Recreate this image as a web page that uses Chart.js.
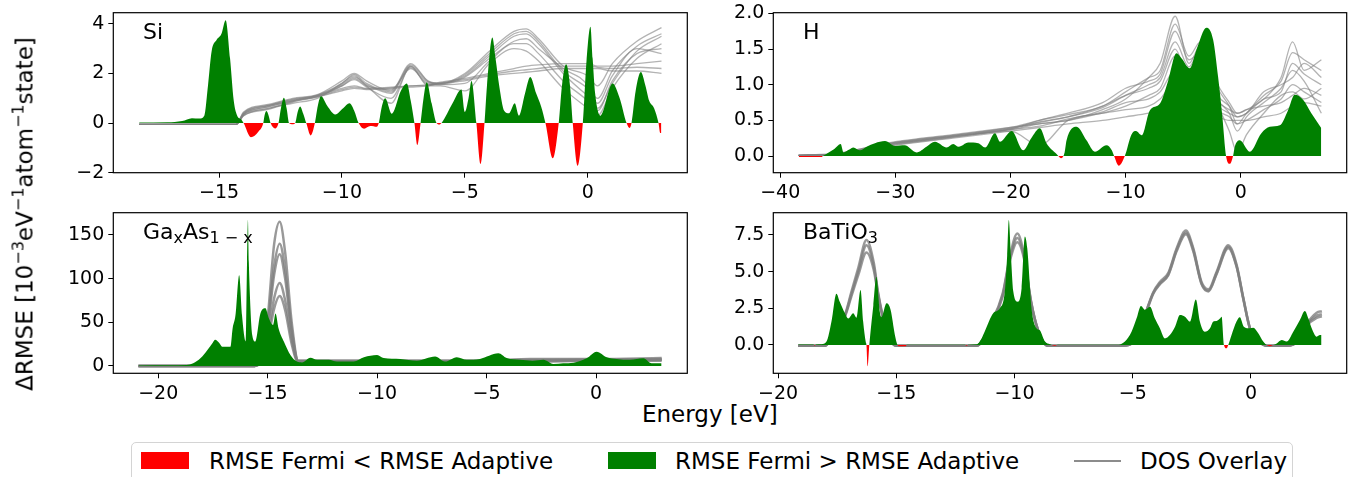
<!DOCTYPE html>
<html>
<head>
<meta charset="utf-8">
<script src="https://cdn.jsdelivr.net/npm/chart.js@4.4.1/dist/chart.umd.min.js"></script>
<style>
  body { margin: 0; width: 1354px; height: 477px; overflow: hidden; background: #fff; position: relative;
         font-family: "DejaVu Sans", sans-serif; color: #000; }
  canvas { position: absolute; }
  .txt { position: absolute; white-space: nowrap; font-size: 22px; line-height: 22px; z-index: 2; }
  .txt sub { font-size: 16px; line-height: 0; vertical-align: -4px; }
  .big { font-size: 23px; line-height: 23px; }
  .big sup { font-size: 16px; line-height: 0; vertical-align: 9px; }
  .patch { position: absolute; z-index: 2; }
</style>
</head>
<body>
<canvas id="si" width="700" height="200" style="left:0;top:0"></canvas>
<canvas id="h" width="694" height="200" style="left:660px;top:0"></canvas>
<canvas id="gaas" width="700" height="200" style="left:0;top:200px"></canvas>
<canvas id="bto" width="694" height="200" style="left:660px;top:200px"></canvas>

<div class="txt" style="left:143px;top:21px">Si</div>
<div class="txt" style="left:803px;top:21px">H</div>
<div class="txt" style="left:143px;top:221px">Ga<sub>x</sub>As<sub>1 − x</sub></div>
<div class="txt" style="left:803px;top:221px">BaTiO<sub>3</sub></div>

<div class="txt big" style="left:642px;top:403px">Energy [eV]</div>
<div class="txt big" style="left:25px;top:214px;transform:translate(-50%,-50%) rotate(-90deg)">ΔRMSE [10<sup>−3</sup>eV<sup>−1</sup>atom<sup>−1</sup>state]</div>

<div style="position:absolute;left:131px;top:442px;width:1160px;height:60px;border:1px solid #d4d4d4;border-radius:5px;"></div>
<div class="patch" style="left:141px;top:452px;width:48px;height:17px;background:#ff0000"></div>
<div class="txt big" style="left:209px;top:450px">RMSE Fermi &lt; RMSE Adaptive</div>
<div class="patch" style="left:608px;top:452px;width:48px;height:17px;background:#008000"></div>
<div class="txt big" style="left:675px;top:450px">RMSE Fermi &gt; RMSE Adaptive</div>
<div class="patch" style="left:1074px;top:460px;width:47px;height:2px;background:#8c8c8c"></div>
<div class="txt big" style="left:1140px;top:450px">DOS Overlay</div>

<script>
// ---- Si ----
const siE = [
  -18.25, -17.1, -16.5, -16.1, -15.8, -15.6, -15.45, -15.3, -15.1, -14.9,
  -14.73, -14.55, -14.4, -14.26, -14.1, -14.0, -13.7, -13.4, -13.2, -13.15,
  -13.07, -12.98, -12.9, -12.72, -12.58, -12.48, -12.36, -12.25, -12.15, -12.0,
  -11.9, -11.8, -11.7, -11.58, -11.45, -11.27, -11.1, -10.98, -10.85, -10.6,
  -10.27, -9.95, -9.69, -9.5, -9.32, -9.1, -8.85, -8.58, -8.5, -8.38,
  -8.24, -7.97, -7.6, -7.36, -7.2, -7.05, -6.93, -6.8, -6.68, -6.55,
  -6.35, -6.15, -6.04, -5.95, -5.5, -5.14, -5.0, -4.85, -4.73, -4.53,
  -4.36, -4.2, -4.1, -3.88, -3.75, -3.6, -3.4, -3.2, -2.97, -2.8,
  -2.55, -2.34, -2.1, -1.89, -1.72, -1.42, -1.18, -1.05, -0.88, -0.72,
  -0.61, -0.41, -0.2, -0.05, 0.11, 0.2, 0.3, 0.51, 1.01, 1.3,
  1.58, 1.7, 1.78, 1.95, 2.16, 2.35, 2.5, 2.7, 2.88, 2.95,
  3.0
];
const siDelta = [
  0.02, 0.03, 0.08, 0.2, 0.18, 0.3, 1.5, 2.9, 3.35, 3.6,
  4.15, 2.6, 0.9, 0.3, 0.15, 0.0, -0.57, -0.35, 0.0, 0.3,
  0.49, 0.3, 0.0, -0.22, 0.0, 0.6, 1.02, 0.6, 0.0, -0.05,
  0.0, 0.45, 0.67, 0.4, 0.0, -0.5, 0.0, 0.7, 1.08, 0.7,
  0.35, 0.6, 0.8, 0.5, 0.0, -0.23, -0.12, -0.15, 0.0, 0.65,
  1.0, 0.38, 1.3, 1.6, 0.9, 0.0, -0.88, 0.0, 1.0, 1.65,
  0.8, 0.0, -0.06, 0.0, 0.8, 1.35, 0.45, 1.0, 1.7, 0.0,
  -1.65, 0.0, 1.5, 3.45, 2.6, 1.5, 0.5, 0.4, 0.8, 0.3,
  1.2, 1.86, 1.2, 0.65, 0.0, -1.42, 0.0, 1.5, 2.37, 1.5,
  0.0, -1.72, 0.0, 2.5, 3.88, 2.6, 1.2, 0.3, 1.6, 1.0,
  0.0, -0.2, 0.0, 1.3, 2.06, 1.5, 0.9, 0.6, 0.0, -0.4,
  -0.4
];
const siDosE = [-18.25, -14.3, -14.0, -13, -12, -11, -10, -9.5, -9, -8, -7.2, -6.5, -6, -5, -4, -3, -2.5, -2, -1, 0, 0.4, 1, 2, 3];
const siDos1 = [-0.05, -0.05, 0.45, 0.75, 1.0, 1.15, 1.7, 2.0, 1.7, 1.3, 2.4, 1.7, 1.6, 2.0, 2.9, 3.7, 3.8, 3.4, 2.3, 1.9, 1.5, 2.4, 3.3, 3.85];
const siDos2 = [-0.05, -0.05, 0.35, 0.65, 0.9, 1.1, 1.5, 1.8, 1.5, 1.35, 2.2, 1.6, 1.55, 1.85, 2.6, 3.3, 3.4, 3.0, 2.2, 1.5, 0.6, 1.6, 2.9, 3.5];
const siDos3 = [-0.05, -0.05, 0.3, 0.55, 0.85, 1.05, 1.3, 1.4, 1.35, 1.4, 1.45, 1.5, 1.6, 1.7, 1.9, 2.0, 2.05, 2.1, 2.2, 2.2, 2.2, 2.1, 2.1, 2.0];
const siDos4 = [-0.05, -0.05, 0.4, 0.7, 0.95, 1.1, 1.4, 1.5, 1.4, 1.45, 1.5, 1.55, 1.65, 1.8, 2.0, 2.2, 2.3, 2.35, 2.4, 2.4, 2.3, 2.3, 2.4, 2.5];
const siDos5 = [-0.05, -0.05, 0.3, 0.6, 0.8, 1.0, 1.6, 1.9, 1.5, 0.8, 2.3, 1.5, 1.5, 1.3, 2.4, 3.0, 2.9, 2.5, 1.4, 0.6, 0.3, 1.4, 2.6, 3.2];
const siDos6 = [-0.05, -0.05, 0.38, 0.7, 0.92, 1.12, 1.55, 1.85, 1.55, 1.2, 2.3, 1.65, 1.6, 1.9, 2.7, 3.5, 3.6, 3.2, 2.0, 1.1, 0.8, 1.9, 3.0, 2.8];
const siDos7 = [-0.05, -0.05, 0.42, 0.72, 0.97, 1.13, 1.6, 1.95, 1.6, 1.25, 2.35, 1.68, 1.58, 1.95, 2.8, 3.6, 3.7, 3.3, 2.1, 1.4, 1.0, 2.1, 3.1, 3.6];
const siDos8 = [-0.05, -0.05, 0.33, 0.58, 0.87, 1.07, 1.35, 1.45, 1.38, 1.42, 1.5, 1.52, 1.62, 1.75, 1.95, 2.1, 2.15, 2.2, 2.3, 2.3, 2.25, 2.2, 2.25, 2.2];
const siDos9 = [-0.05, -0.05, 0.36, 0.66, 0.9, 1.08, 1.5, 1.75, 1.45, 1.0, 2.25, 1.55, 1.55, 1.6, 2.5, 3.2, 3.2, 2.8, 1.7, 0.9, 0.5, 1.7, 2.8, 3.0];

// ---- H ----
const hE = [
  -38.4, -36.4, -36.3, -36.0, -35.3, -34.75, -34.5, -34.0, -33.65, -33.07,
  -32.5, -31.77, -30.9, -30.0, -29.2, -28.15, -27.3, -26.56, -25.55, -24.97,
  -24.5, -23.67, -22.8, -22.2, -21.35, -20.9, -19.9, -18.9, -18.2, -17.45,
  -16.87, -16.0, -15.6, -15.3, -15.13, -14.26, -13.4, -12.67, -11.66, -11.2,
  -11.0, -10.6, -10.07, -9.5, -9.1, -8.6, -7.9, -7.0, -6.3, -5.58,
  -5.15, -4.43, -3.85, -2.98, -2.4, -1.97, -1.6, -1.28, -0.95, -0.67,
  -0.52, -0.09, 0.78, 1.79, 2.52, 3.39, 4.1, 4.69, 5.41, 6.13,
  7.0
];
const hDelta = [
  -0.015, -0.015, 0.0, 0.03, 0.1, 0.17, 0.05, 0.09, 0.12, 0.08,
  0.13, 0.18, 0.21, 0.14, 0.15, 0.05, 0.13, 0.2, 0.12, 0.17,
  0.13, 0.19, 0.18, 0.12, 0.32, 0.2, 0.35, 0.08, 0.25, 0.39,
  0.18, 0.03, -0.03, 0.05, 0.22, 0.41, 0.22, 0.06, 0.15, 0.08,
  0.0, -0.135, 0.0, 0.3, 0.35, 0.29, 0.64, 0.74, 1.06, 1.44,
  1.37, 1.23, 1.49, 1.8, 1.63, 1.11, 0.55, 0.0, -0.11, 0.0,
  0.13, 0.22, 0.06, 0.32, 0.41, 0.43, 0.64, 0.86, 0.79, 0.6,
  0.39
];
const hDosE = [-38.4, -35, -33, -30, -25, -20, -17.5, -15, -12, -10, -8, -7, -5.7, -4.5, -3.5, -2, -1, -0.3, 0.5, 2, 3.5, 4.5, 5.5, 7];
const hDos1 = [0.01, 0.04, 0.1, 0.2, 0.3, 0.4, 0.45, 0.5, 0.65, 0.8, 1.1, 1.3, 1.96, 1.3, 1.55, 1.0, 0.75, 0.6, 0.65, 0.8, 1.1, 1.6, 1.2, 1.35];
const hDos2 = [0.01, 0.03, 0.09, 0.18, 0.28, 0.38, 0.5, 0.6, 0.75, 0.95, 1.05, 1.15, 1.75, 1.35, 1.45, 0.85, 0.7, 0.55, 0.6, 0.9, 1.0, 1.1, 1.3, 1.1];
const hDos3 = [0.01, 0.03, 0.08, 0.17, 0.27, 0.37, 0.45, 0.5, 0.6, 0.65, 0.7, 0.8, 1.05, 1.0, 0.9, 0.75, 0.65, 0.6, 0.65, 0.7, 0.75, 0.85, 0.95, 0.85];
const hDos4 = [0.01, 0.02, 0.07, 0.15, 0.25, 0.35, 0.4, 0.45, 0.5, 0.55, 0.6, 0.65, 0.75, 0.7, 0.65, 0.55, 0.5, 0.5, 0.5, 0.55, 0.6, 0.7, 0.75, 0.7];
const hDos5 = [0.01, 0.02, 0.08, 0.16, 0.26, 0.35, 0.15, 0.5, 0.6, 0.7, 0.85, 0.95, 1.4, 1.2, 1.1, 0.7, 0.35, 0.05, 0.3, 0.6, 0.85, 0.9, 0.8, 0.95];
const hDos6 = [0.01, 0.03, 0.09, 0.19, 0.29, 0.39, 0.48, 0.55, 0.68, 0.85, 1.0, 1.1, 1.6, 1.25, 1.5, 0.8, 0.6, 0.35, 0.55, 0.75, 0.95, 1.2, 1.05, 0.6];
const hDos7 = [0.01, 0.03, 0.09, 0.18, 0.28, 0.38, 0.47, 0.55, 0.7, 0.85, 0.95, 1.05, 1.5, 1.1, 1.2, 0.65, 0.55, 0.45, 0.5, 0.65, 0.8, 1.0, 0.9, 0.75];
const hDos8 = [0.01, 0.02, 0.08, 0.17, 0.27, 0.37, 0.42, 0.52, 0.62, 0.75, 0.8, 0.9, 1.2, 0.95, 1.0, 0.7, 0.6, 0.55, 0.6, 0.8, 0.9, 1.3, 1.15, 1.0];
const hDos9 = [0.01, 0.03, 0.1, 0.19, 0.29, 0.4, 0.5, 0.58, 0.7, 0.9, 1.1, 1.2, 1.85, 1.4, 1.6, 0.95, 0.7, 0.45, 0.6, 0.85, 1.05, 1.45, 1.35, 1.2];

// ---- GaxAs1-x ----
const gaE = [
  -20.9, -19.5, -18.7, -18.4, -18.06, -17.76, -17.5, -17.4, -17.2, -17.08,
  -16.7, -16.6, -16.47, -16.3, -16.17, -16.0, -15.94, -15.9, -15.86, -15.7,
  -15.56, -15.33, -15.1, -14.95, -14.75, -14.64, -14.5, -14.26, -13.96, -13.66,
  -13.43, -13.05, -12.74, -12.2, -11.83, -11.07, -10.6, -10.0, -9.7, -8.94,
  -8.18, -7.35, -6.9, -6.36, -5.9, -5.3, -4.46, -4.08, -3.47, -2.9,
  -2.4, -1.95, -1.5, -1.03, -0.43, 0.03, 0.49, 0.94, 1.55, 2.16,
  2.54, 3.0
];
const gaDelta = [
  0.5, 0.8, 1, 3, 9, 18, 27, 30, 26, 22,
  22, 43, 58, 104, 58, 28, 120, 167, 119, 35,
  28, 60, 66, 55, 47, 60, 43, 28, 12.6, 5,
  4, 9.5, 7, 7, 5, 5, 10, 12.6, 9, 8,
  6, 10.7, 5, 10, 7, 8, 14.5, 9, 7, 6,
  7, 2.3, 3, 3.8, 8.8, 16.4, 10, 8, 7, 8.8,
  3, 3
];
const gaDosE = [-20.9, -15.6, -15.3, -15.0, -14.7, -14.45, -14.2, -13.9, -13.6, -13.0, -10, -5, -3, 0, 3];
const gaDos1 = [0, 0, 10, 55, 140, 165, 130, 50, 6, 6, 6, 6, 8, 8, 9];
const gaDos2 = [0, 0, 9, 48, 115, 140, 110, 42, 6, 6, 6, 6, 7, 7, 8];
const gaDos3 = [0, 0, 8, 42, 105, 128, 100, 38, 5, 5, 5, 5, 6, 7, 7];
const gaDos4 = [0, 0, 6, 33, 78, 95, 75, 30, 5, 5, 5, 5, 6, 6, 7];
const gaDos5 = [0, 0, 5, 28, 66, 80, 64, 25, 4, 5, 5, 5, 5, 6, 6];

// ---- BaTiO3 ----
const btE = [
  -19.15, -18.5, -18.45, -18.4, -18.16, -17.95, -17.74, -17.53, -17.39, -17.17,
  -17.03, -16.82, -16.68, -16.51, -16.4, -16.29, -16.26, -16.21, -16.14, -16.1,
  -15.97, -15.84, -15.7, -15.63, -15.41, -15.24, -15.06, -14.95, -14.9, -14.6,
  -14.55, -12.1, -12.03, -11.95, -11.6, -11.39, -11.25, -10.9, -10.62, -10.41,
  -10.31, -10.24, -10.15, -10.05, -9.87, -9.7, -9.56, -9.46, -9.28, -9.07,
  -8.93, -8.71, -8.5, -8.3, -8.15, -5.6, -5.33, -5.05, -4.84, -4.65,
  -4.48, -4.27, -4.06, -3.85, -3.64, -3.43, -3.21, -3.0, -2.79, -2.58,
  -2.33, -2.16, -1.95, -1.73, -1.59, -1.45, -1.31, -1.24, -1.14, -1.03,
  -0.96, -0.82, -0.61, -0.47, -0.3, -0.04, 0.1, 0.31, 0.52, 0.66,
  0.8, 0.94, 1.09, 1.3, 1.51, 1.79, 2.07, 2.28, 2.43, 2.57,
  2.78, 2.92, 2.99
];
const btDelta = [
  0.03, 0.03, -0.05, 0.03, 0.05, 0.23, 1.6, 3.5, 2.95, 2.16,
  1.8, 2.16, 1.86, 3.75, 1.6, 0.2, 0.0, -1.45, 0.0, 0.7,
  2.7, 4.65, 2.3, 1.9, 2.84, 2.4, 0.7, 0.0, -0.08, -0.08,
  0.02, 0.02, -0.05, 0.02, 0.05, 0.45, 0.95, 2.16, 2.5, 3.64,
  6.1, 8.52, 6.1, 3.64, 2.95, 3.86, 7.39, 6.6, 2.5, 1.14,
  1.0, 0.23, 0.05, -0.05, 0.02, 0.02, 0.23, 0.9, 1.8, 2.66,
  2.4, 2.6, 1.8, 1.14, 0.45, 0.68, 1.25, 2.05, 1.93, 1.6,
  3.11, 1.6, 0.9, 1.14, 1.6, 1.64, 1.8, 1.93, 0.0, -0.23,
  0.0, 0.68, 1.6, 1.89, 1.25, 1.14, 1.18, 0.8, 0.23, 0.0,
  -0.08, 0.0, 0.11, 0.34, 0.23, 0.9, 1.7, 2.32, 1.8, 1.14,
  0.57, 0.68, 0.68
];
const btDosE = [
  -19.15, -18.0, -17.6, -17.17, -16.9, -16.6, -16.26, -15.95, -15.77, -15.56,
  -15.3, -15.0, -11.6, -11.0, -10.5, -10.2, -9.88, -9.6, -9.3, -9.0,
  -8.6, -5.5, -4.8, -4.41, -4.13, -3.85, -3.5, -3.14, -2.75, -2.44,
  -2.09, -1.8, -1.45, -0.96, -0.61, -0.32, -0.04, 0.3, 0.7, 1.5,
  2.0, 2.35, 2.78, 3.0
];
const btDos1 = [
  -0.05, -0.05, 1.0, 2.05, 3.6, 5.3, 7.16, 5.6, 3.6, 1.9,
  0.5, -0.05, -0.05, 1.5, 3.5, 6.0, 7.6, 6.2, 3.0, 1.0,
  -0.05, -0.05, 0.5, 2.4, 3.6, 4.3, 4.9, 6.6, 7.8, 6.6,
  4.3, 3.8, 5.0, 6.8, 5.5, 3.2, 1.14, 0.3, -0.05, -0.05,
  0.3, 1.4, 2.2, 2.3
];
const btDos2 = [
  -0.05, -0.05, 1.0, 1.95, 3.3, 4.8, 6.3, 5.1, 3.4, 1.8,
  0.5, -0.05, -0.05, 1.4, 3.3, 5.7, 7.0, 5.9, 2.9, 1.0,
  -0.05, -0.05, 0.5, 2.3, 3.5, 4.15, 4.75, 6.4, 7.55, 6.4,
  4.15, 3.65, 4.85, 6.6, 5.35, 3.1, 1.1, 0.3, -0.05, -0.05,
  0.3, 1.3, 1.85, 1.95
];
const btDos3 = [
  -0.05, -0.05, 1.0, 2.0, 3.45, 5.05, 6.8, 5.35, 3.5, 1.85,
  0.5, -0.05, -0.05, 1.45, 3.4, 5.85, 7.3, 6.05, 2.95, 1.0,
  -0.05, -0.05, 0.5, 2.35, 3.55, 4.2, 4.8, 6.5, 7.65, 6.5,
  4.2, 3.7, 4.9, 6.7, 5.4, 3.15, 1.12, 0.3, -0.05, -0.05,
  0.3, 1.35, 2.0, 2.1
];

// tick labels
const siXTicks = [-15, -10, -5, 0];
const siYTicks = [-2, 0, 2, 4];
const hXTicks = [-40, -30, -20, -10, 0];
const hYTicks = [0, 0.5, 1, 1.5, 2];
const gaXTicks = [-20, -15, -10, -5, 0];
const gaYTicks = [0, 50, 100, 150];
const btXTicks = [-20, -15, -10, -5, 0];
const btYTicks = [0, 2.5, 5, 7.5];

Chart.defaults.font.family = "DejaVu Sans";
Chart.defaults.color = "#000";

const pts = (xs, ys) => xs.map((x, i) => ({ x: x, y: ys[i] }));
const fmt = dec => v => (v < 0 ? "\u2212" : "") + Math.abs(v).toFixed(dec);

// matplotlib style box around the plot area
const frame = {
  id: "frame",
  afterDraw(chart) {
    const a = chart.chartArea;
    const ctx = chart.ctx;
    ctx.save();
    ctx.strokeStyle = "#000";
    ctx.lineWidth = 1.2;
    ctx.strokeRect(a.left, a.top, a.right - a.left, a.bottom - a.top);
    ctx.restore();
  }
};

const axis = (min, max, ticks, dec, horizontal, size) => ({
  type: "linear",
  min: min,
  max: max,
  border: { display: false },
  grid: { drawOnChartArea: false, drawTicks: true, tickLength: 5, color: "#000", lineWidth: 1 },
  ticks: { autoSkip: false, maxRotation: 0, padding: 4, font: { size: 19 }, callback: fmt(dec) },
  afterBuildTicks: s => { s.ticks = ticks.map(v => ({ value: v })); },
  afterFit: s => {
    if (horizontal) s.height = size; else s.width = size;
    s.paddingTop = 0; s.paddingBottom = 0; s.paddingLeft = 0; s.paddingRight = 0;
  }
});

const makePanel = (id, p) => {
  const datasets = p.dos.map(ys => ({
    data: pts(p.dosE, ys),
    borderColor: p.dosColor,
    borderWidth: p.dosWidth,
    pointRadius: 0,
    fill: false,
    cubicInterpolationMode: "monotone",
    order: 1
  }));
  datasets.push({
    data: pts(p.E, p.delta),
    borderColor: "rgba(0,0,0,0)",
    borderWidth: 0,
    pointRadius: 0,
    fill: { target: "origin", above: "#008000", below: "#ff0000" },
    cubicInterpolationMode: "monotone",
    order: 0
  });

  new Chart(document.getElementById(id), {
    type: "line",
    data: { datasets: datasets },
    options: {
      responsive: false,
      animation: false,
      devicePixelRatio: 1,
      layout: { padding: { left: 0, top: 12.7, right: p.padRight, bottom: 0 } },
      plugins: { legend: { display: false }, tooltip: { enabled: false } },
      scales: {
        x: axis(p.xMin, p.xMax, p.xTicks, 0, true, p.xH),
        y: axis(p.yMin, p.yMax, p.yTicks, p.yDec, false, 113.3)
      }
    },
    plugins: [frame]
  });
};

makePanel("si", {
  E: siE, delta: siDelta, dosE: siDosE,
  dos: [siDos1, siDos2, siDos3, siDos4, siDos5, siDos6, siDos7, siDos8, siDos9],
  dosColor: "rgba(128,128,128,0.6)", dosWidth: 1.3,
  xMin: -19.3, xMax: 4.05, yMin: -2.0, yMax: 4.45, xTicks: siXTicks, yTicks: siYTicks, yDec: 0,
  padRight: 12.7, xH: 27.3
});
makePanel("h", {
  E: hE, delta: hDelta, dosE: hDosE,
  dos: [hDos1, hDos2, hDos3, hDos4, hDos5, hDos6, hDos7, hDos8, hDos9],
  dosColor: "rgba(128,128,128,0.6)", dosWidth: 1.3,
  xMin: -40.6, xMax: 9.2, yMin: -0.234, yMax: 2.01, xTicks: hXTicks, yTicks: hYTicks, yDec: 1,
  padRight: 7.3, xH: 27.3
});
makePanel("gaas", {
  E: gaE, delta: gaDelta, dosE: gaDosE, dos: [gaDos1, gaDos2, gaDos3, gaDos4, gaDos5],
  dosColor: "rgba(128,128,128,0.8)", dosWidth: 2.5,
  xMin: -22.05, xMax: 4.17, yMin: -8.4, yMax: 175.5, xTicks: gaXTicks, yTicks: gaYTicks, yDec: 0,
  padRight: 12.7, xH: 26.7
});
makePanel("bto", {
  E: btE, delta: btDelta, dosE: btDosE, dos: [btDos1, btDos2, btDos3],
  dosColor: "rgba(128,128,128,0.8)", dosWidth: 2.5,
  xMin: -20.2, xMax: 4.05, yMin: -1.93, yMax: 9.02, xTicks: btXTicks, yTicks: btYTicks, yDec: 1,
  padRight: 7.3, xH: 26.7
});
</script>
</body>
</html>
